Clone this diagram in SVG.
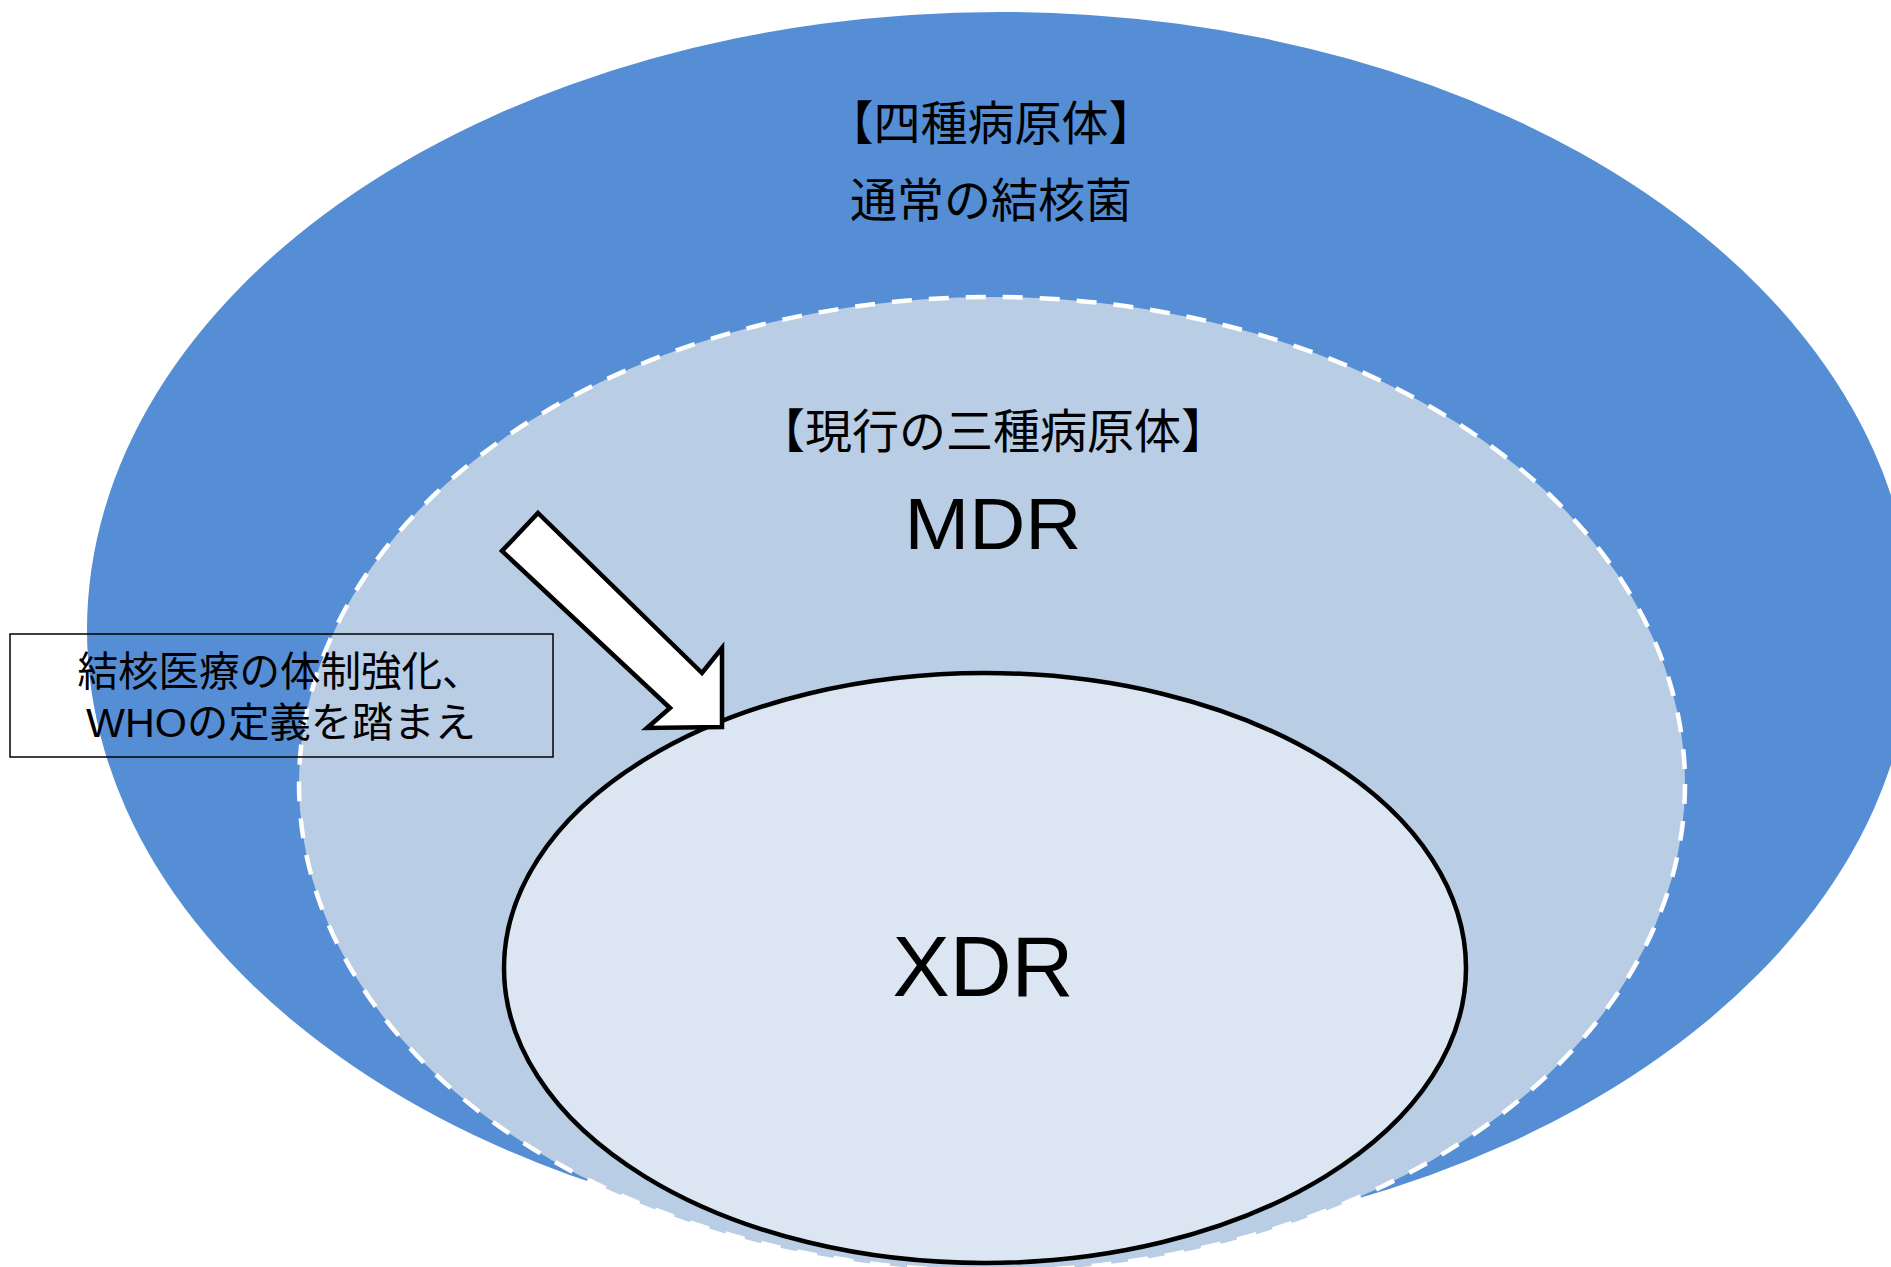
<svg xmlns="http://www.w3.org/2000/svg" width="1891" height="1267" viewBox="0 0 1891 1267">
  <style>
    .jp { font-family: 'Liberation Sans', 'Noto Sans CJK JP', sans-serif; fill: #000; text-anchor: middle; }
    .title { font-size: 47px; }
    .big { font-family: 'Liberation Sans', 'Noto Sans', sans-serif; fill: #000; text-anchor: middle; }
    .note { font-size: 41px; }
  </style>
  <rect width="1891" height="1267" fill="#ffffff"/>
  <g id="node-four">
    <ellipse cx="1000" cy="630" rx="913" ry="618" fill="#558ED5"/>
  </g>
  <g id="node-three">
    <ellipse cx="992" cy="784" rx="693" ry="487" fill="#B9CDE5" stroke="#ffffff" stroke-width="4.5" stroke-dasharray="20 17"/>
  </g>
  <g id="node-xdr">
    <ellipse cx="985" cy="968" rx="481" ry="295" fill="#DCE6F2" stroke="#000000" stroke-width="4.5"/>
    <text class="big" x="983" y="996" font-size="85" textLength="181" lengthAdjust="spacingAndGlyphs">XDR</text>
  </g>
  <g id="connectors">
    <polygon points="538,513 702,673 722,648 722,727 647,728 670,708 502,551" fill="#ffffff" stroke="#000000" stroke-width="4.5" stroke-linejoin="miter"/>
  </g>
  <g id="node-note">
    <rect x="10" y="634" width="543" height="123" fill="none" stroke="#000000" stroke-width="1.5"/>
    <text class="jp note" x="280" y="686" textLength="405" lengthAdjust="spacingAndGlyphs">結核医療の体制強化、</text>
    <text class="jp note" x="281" y="737" textLength="390" lengthAdjust="spacingAndGlyphs">WHOの定義を踏まえ</text>
  </g>
  <g id="labels">
    <text class="jp title" x="991" y="140">【四種病原体】</text>
    <text class="jp title" x="991" y="217">通常の結核菌</text>
    <text class="jp title" x="993" y="448">【現行の三種病原体】</text>
    <text class="big" x="993" y="549" font-size="72" textLength="177" lengthAdjust="spacingAndGlyphs">MDR</text>
  </g>
</svg>
